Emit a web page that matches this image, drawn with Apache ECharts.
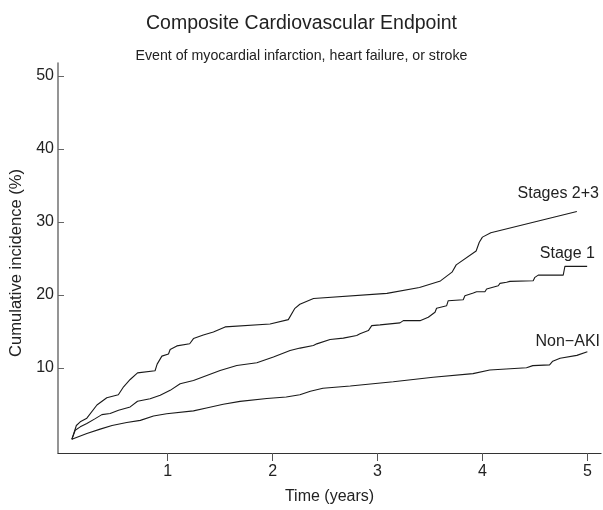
<!DOCTYPE html>
<html>
<head>
<meta charset="utf-8">
<script src="https://cdn.jsdelivr.net/npm/echarts@6/dist/echarts.min.js"></script>
<style>
html,body{margin:0;padding:0;background:#fff;}
#chart{width:603px;height:510px;}
</style>
</head>
<body>
<div id="chart"></div>
<script>
// ---- data (time in years, cumulative incidence in %) ----
var stages23Time = [0.087,0.13,0.167,0.23,0.326,0.42,0.53,0.58,0.643,0.713,0.88,0.90,0.945,1.008,1.024,1.088,1.21,1.246,1.34,1.436,1.548,1.976,2.15,2.21,2.26,2.39,3.09,3.40,3.6,3.71,3.75,3.94,3.97,4.0,4.08,4.90];
var stages23Inc  = [0.2,2.1,2.6,3.1,4.9,5.9,6.3,7.4,8.4,9.3,9.6,10.5,11.6,11.9,12.5,13.0,13.3,14.0,14.5,14.9,15.6,16.0,16.6,18.1,18.7,19.5,20.2,21.0,21.9,23.1,24.1,26.0,27.2,27.9,28.5,31.4];

var stage1Time = [0.087,0.119,0.167,0.23,0.31,0.373,0.452,0.532,0.643,0.713,0.833,0.929,1.024,1.119,1.246,1.373,1.5,1.659,1.85,2.008,2.167,2.262,2.389,2.421,2.548,2.674,2.802,2.833,2.913,2.945,3.024,3.214,3.246,3.405,3.484,3.548,3.563,3.659,3.674,3.817,3.833,3.913,3.944,4.024,4.040,4.151,4.167,4.230,4.262,4.484,4.500,4.532,4.770,4.786,4.998];
var stage1Inc  = [0.22,1.45,1.91,2.36,3.04,3.59,3.73,4.18,4.64,5.41,5.77,6.23,6.91,7.82,8.27,8.96,9.64,10.32,10.69,11.47,12.37,12.70,13.05,13.28,13.87,14.06,14.42,14.65,15.10,15.78,15.88,16.15,16.46,16.46,16.93,17.61,18.16,18.51,19.19,19.33,19.88,20.25,20.42,20.42,20.79,21.24,21.57,21.71,21.84,21.92,22.39,22.70,22.70,23.89,23.89];

var nonAkiTime = [0.087,0.23,0.357,0.47,0.61,0.74,0.865,0.99,1.246,1.37,1.53,1.69,1.945,2.13,2.26,2.36,2.48,2.74,3.15,3.53,3.91,4.07,4.42,4.48,4.64,4.67,4.74,4.90,5.0];
var nonAkiInc  = [0.2,1.0,1.6,2.1,2.5,2.8,3.4,3.7,4.1,4.5,5.0,5.4,5.8,6.0,6.3,6.8,7.2,7.5,8.1,8.7,9.2,9.7,10.0,10.3,10.4,10.9,11.3,11.7,12.2];

var seriesNames = ['Stages 2+3', 'Stage 1', 'Non\u2212AKI'];
var xTicks = [1, 2, 3, 4, 5];
var yTicks = [10, 20, 30, 40, 50];

var titleText = 'Composite Cardiovascular Endpoint';
var subtitleText = 'Event of myocardial infarction, heart failure, or stroke';
var xName = 'Time (years)';
var yName = 'Cumulative incidence (%)';

// ---- build ----
function zip(a, b) { return a.map(function (v, i) { return [v, b[i]]; }); }
var FONT = '"Liberation Sans", Arial, Helvetica, sans-serif';
var TXT = '#222';

var chart = echarts.init(document.getElementById('chart'), null, {renderer: 'canvas'});

function lineSeries(name, data) {
  return {
    name: name,
    type: 'line',
    data: data,
    showSymbol: false,
    symbol: 'none',
    lineStyle: {color: '#1a1a1a', width: 1.1},
    silent: true,
    z: 3
  };
}

var option = {
  animation: false,
  backgroundColor: '#fff',
  title: [
    {text: titleText, left: 'center', top: 9,
     textStyle: {fontFamily: FONT, fontSize: 19.5, fontWeight: 'normal', color: TXT}},
    {text: subtitleText, left: 'center', top: 44,
     textStyle: {fontFamily: FONT, fontSize: 14.2, fontWeight: 'normal', color: TXT}}
  ],
  grid: {left: 58, right: 2, top: 63, bottom: 55.5, containLabel: false},
  xAxis: {
    type: 'value',
    min: -0.045, max: 5.13,
    name: xName, nameLocation: 'middle', nameGap: 36,
    nameTextStyle: {fontFamily: FONT, fontSize: 16, color: TXT},
    splitLine: {show: false},
    axisLine: {show: true, onZero: false, lineStyle: {color: '#333', width: 1.2}},
    axisTick: {show: true, inside: false, length: 8, customValues: xTicks, lineStyle: {color: '#555', width: 1}},
    axisLabel: {customValues: xTicks, margin: 11, fontFamily: FONT, fontSize: 16, color: TXT}
  },
  yAxis: {
    type: 'value',
    min: -1.67, max: 51.75,
    name: yName, nameLocation: 'middle', nameGap: 28, nameRotate: 90,
    nameTextStyle: {fontFamily: FONT, fontSize: 16.6, color: TXT, padding: [0, 10, 0, 0]},
    splitLine: {show: false},
    axisLine: {show: true, onZero: false, lineStyle: {color: '#7a7a7a', width: 1.6}},
    axisTick: {show: true, inside: true, length: 6, customValues: yTicks, lineStyle: {color: '#666', width: 1}},
    axisLabel: {customValues: yTicks, margin: 4, fontFamily: FONT, fontSize: 16, color: TXT}
  },
  series: [
    lineSeries(seriesNames[0], zip(stages23Time, stages23Inc)),
    lineSeries(seriesNames[1], zip(stage1Time, stage1Inc)),
    lineSeries(seriesNames[2], zip(nonAkiTime, nonAkiInc))
  ],
  graphic: [
    {type: 'text', right: 4, top: 186, style: {text: seriesNames[0], font: '16px ' + FONT, fill: TXT}},
    {type: 'text', right: 8, top: 246, style: {text: seriesNames[1], font: '16px ' + FONT, fill: TXT}},
    {type: 'text', right: 3, top: 334, style: {text: seriesNames[2], font: '16px ' + FONT, fill: TXT}}
  ]
};
chart.setOption(option);
</script>
</body>
</html>
